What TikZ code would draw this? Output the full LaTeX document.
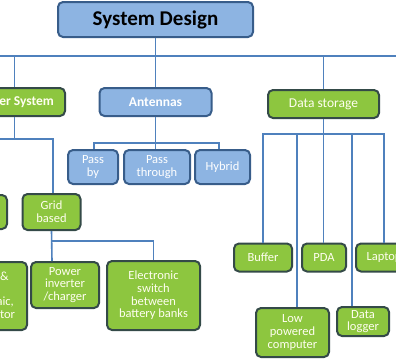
\documentclass[tikz,border=0pt]{standalone}
\usepackage{fontspec}
\setmainfont{Carlito}
\usetikzlibrary{positioning,calc}
\definecolor{leaf}{RGB}{141,198,63}
\definecolor{leafline}{RGB}{52,74,72}
\definecolor{sky}{RGB}{141,180,226}
\definecolor{skyline}{RGB}{56,93,138}
\definecolor{wire}{RGB}{79,129,189}

\begin{document}
\begin{tikzpicture}[x=1pt, y=-1pt,
  box/.style={draw, rounded corners=5pt, line width=2pt, align=center, inner sep=0pt},
  bluebox/.style={box, draw=skyline, fill=sky, text=white},
  greenbox/.style={box, draw=leafline, fill=leaf, text=white!94!yellow},
  head/.style={font=\fontsize{13.5}{14}\selectfont\bfseries},
  small/.style={font=\fontsize{12.5}{12.7}\selectfont},
  link/.style={draw=wire, line width=1.6pt}
]
\useasboundingbox (0,0) rectangle (396,360);
\fill[white] (0,0) rectangle (396,360);
\clip (0,0) rectangle (396,360);

% top level
\node[bluebox, text=black, minimum width=195pt, minimum height=35pt,
  font=\fontsize{21}{23}\selectfont\bfseries] (sysdesign) at (155.5,19.5) {System Design};
\coordinate (busL) at (-20,56);
\coordinate (busR) at (416,56);

% second level
\node[greenbox, head, minimum width=101pt, minimum height=28pt] (power) at (14.5,102) {Power System};
\node[bluebox, head, minimum width=112pt, minimum height=28pt] (antennas) at (155.5,102) {Antennas};
\node[greenbox, font=\fontsize{13.5}{14}\selectfont, minimum width=111pt, minimum height=28pt] (storage) at (323.5,104) {Data storage};

% power system
\node[greenbox, small, minimum width=58pt, minimum height=34pt] (offgrid) at (-22,212) {};
\node[greenbox, small, minimum width=58pt, minimum height=36pt] (grid) at (51.5,212) {Grid\\based};
\node[greenbox, small, minimum width=93pt, minimum height=68pt] (battery) at (-19.5,296) {Batteries \&\\wind,\\photovoltaic,\\gas generator};
\node[greenbox, small, minimum width=68pt, minimum height=46pt] (inverter) at (65,285) {Power\\inverter\\/charger};
\node[greenbox, small, minimum width=93pt, minimum height=69pt] (switch) at (153.5,295.5) {Electronic\\switch\\between\\battery banks};

% antennas
\node[bluebox, small, minimum width=50pt, minimum height=34pt] (passby) at (93,167) {Pass\\by};
\node[bluebox, small, minimum width=66pt, minimum height=34pt] (passthrough) at (157,167) {Pass\\through};
\node[bluebox, small, minimum width=55pt, minimum height=34pt] (hybrid) at (222.5,167) {Hybrid};

% data storage
\node[greenbox, small, minimum width=58pt, minimum height=28pt] (buffer) at (263,257.5) {Buffer};
\node[greenbox, small, minimum width=44pt, minimum height=28pt] (pda) at (324,257.5) {PDA};
\node[greenbox, small, minimum width=56pt, minimum height=28pt] (laptop) at (384,257.5) {Laptop};
\node[greenbox, small, minimum width=73pt, minimum height=49pt] (lowpc) at (292.5,332.5) {Low\\powered\\computer};
\node[greenbox, small, minimum width=52pt, minimum height=29pt] (logger) at (363,321.5) {Data\\logger};

% connectors
\draw[link] (busL) -- (busR);
\draw[link] (sysdesign.south) -- (antennas.north);
\draw[link] (power.north |- busL) -- (power.north);
\draw[link] (storage.north |- busL) -- (storage.north);

\coordinate (pbus) at (-40,139);
\draw[link] (power.south) -- (power.south |- pbus);
\draw[link] (offgrid.north) |- (pbus) -| ([xshift=1.5pt]grid.north);
\coordinate (gbus) at (0,241);
\draw[link] (grid.south) -- ([xshift=0.5pt]grid.south |- inverter.north);
\draw[link] (grid.south |- gbus) -| (switch.north);

\draw[link] (antennas.south) -- ++(0,26) coordinate (abus);
\draw[link] ([xshift=1pt]passby.north) |- (abus) -| ([xshift=-3.5pt]hybrid.north);
\draw[link] (abus) -- (abus |- passthrough.north);

\draw[link] (storage.south) -- ++(0,15) coordinate (dbus);
\draw[link] (buffer.north) |- (dbus) -| (laptop.north);
\draw[link] (dbus) -- (dbus |- pda.north);
\draw[link] ([xshift=4.5pt]lowpc.north) -- ([xshift=4.5pt]lowpc.north |- dbus);
\draw[link] ([xshift=-11pt]logger.north) -- ([xshift=-11pt]logger.north |- dbus);
\end{tikzpicture}
\end{document}
